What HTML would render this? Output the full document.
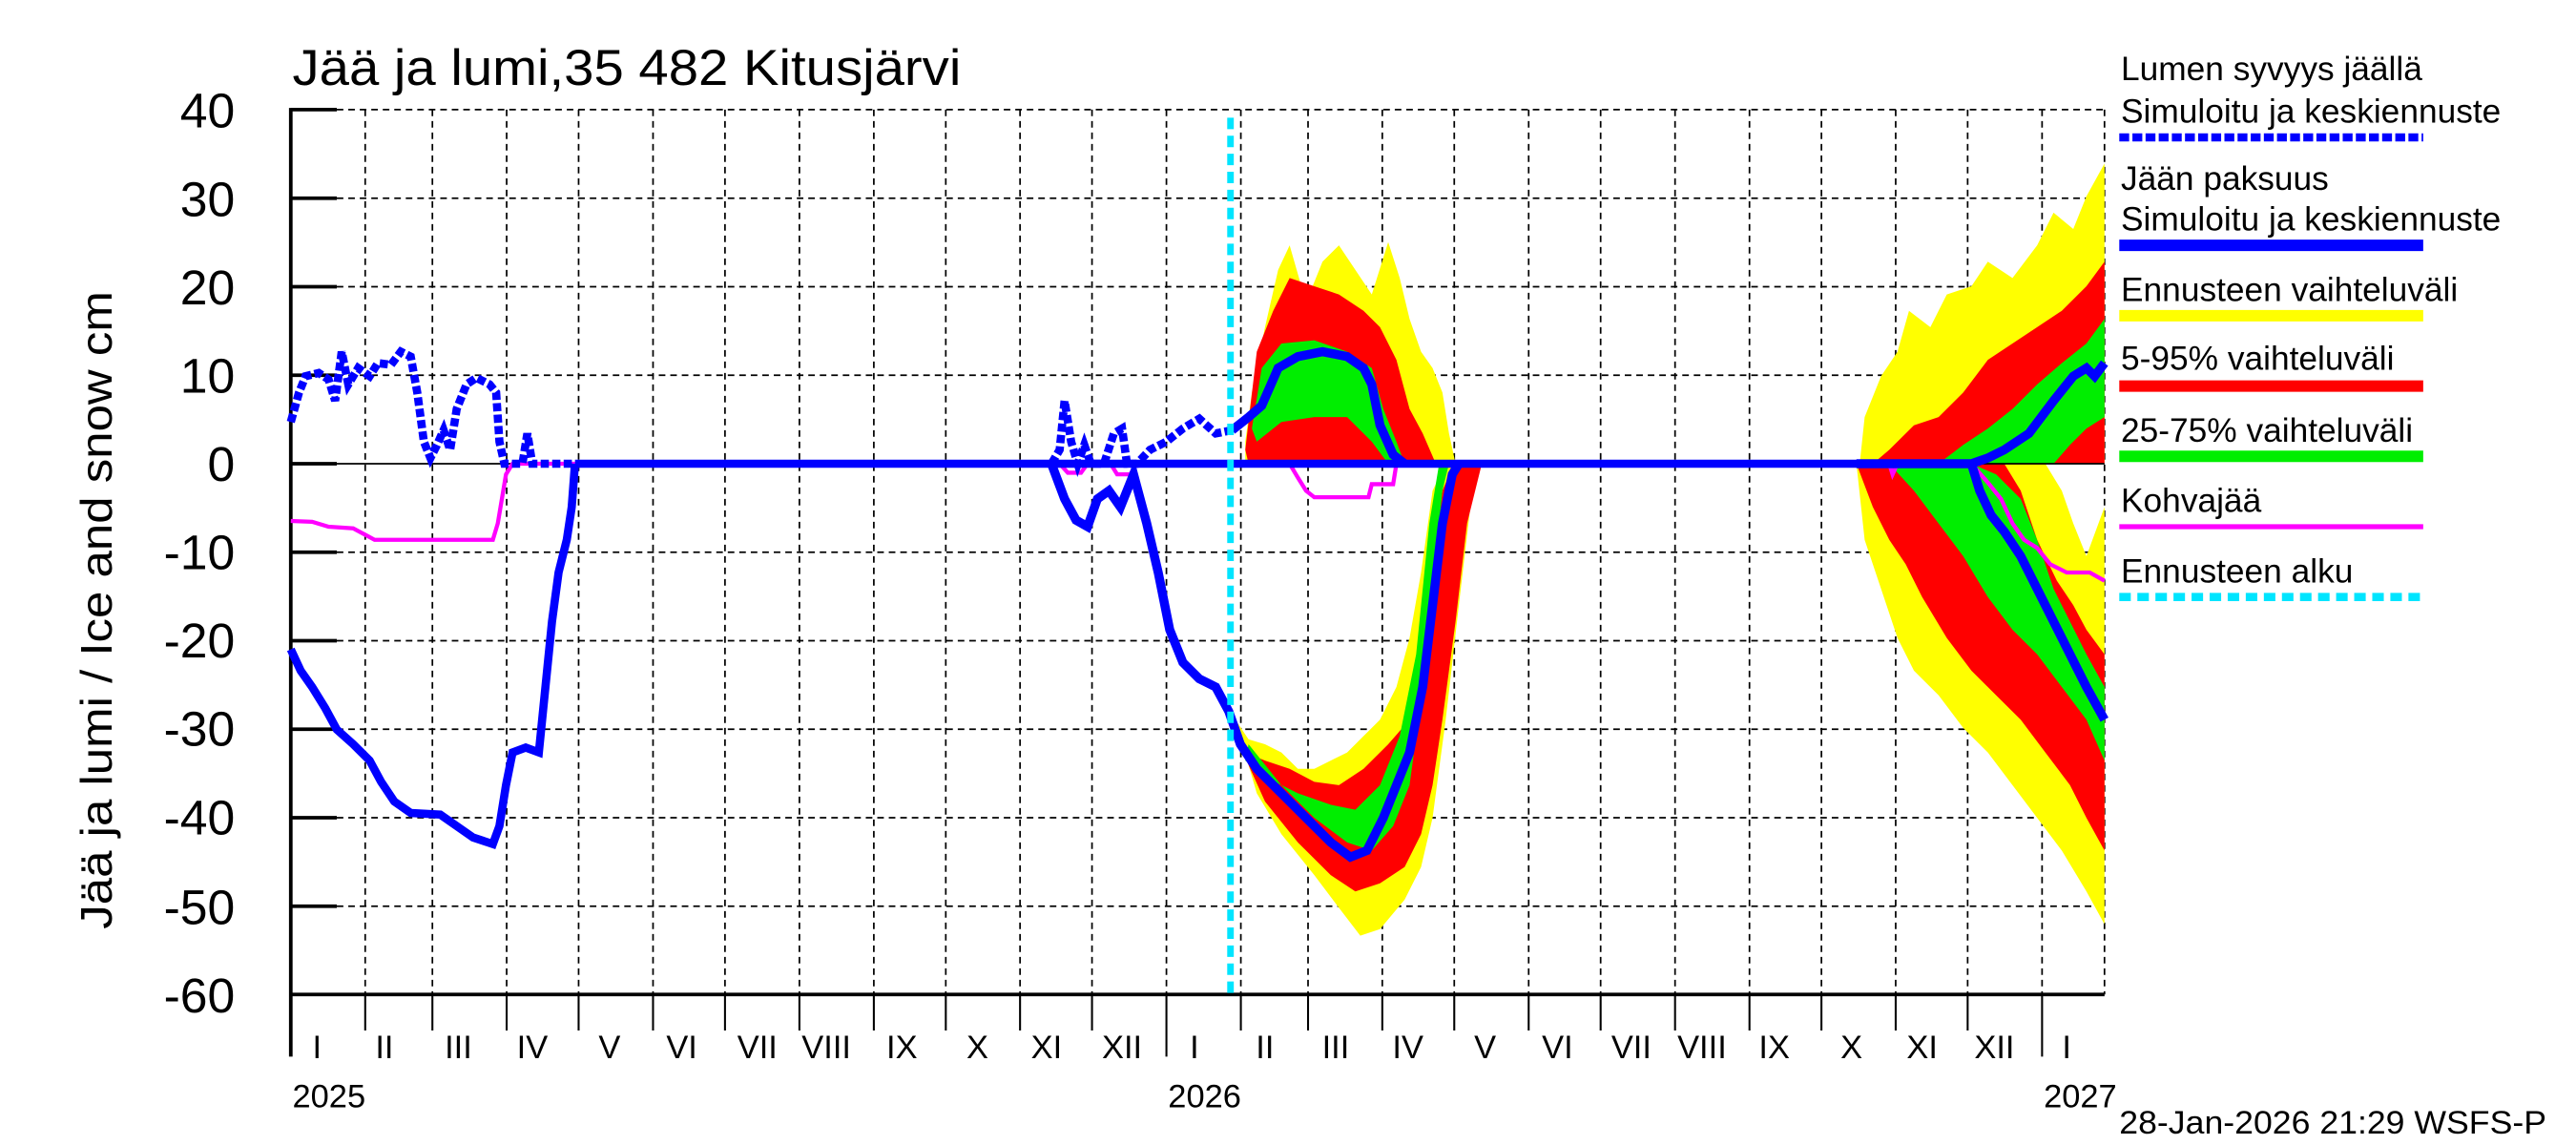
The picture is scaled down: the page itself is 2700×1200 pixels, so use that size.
<!DOCTYPE html>
<html><head><meta charset="utf-8"><style>html,body{margin:0;padding:0;background:#fff}svg{display:block}</style></head>
<body>
<svg width="2700" height="1200" viewBox="0 0 1568 700" preserveAspectRatio="none" xmlns="http://www.w3.org/2000/svg" font-family="Liberation Sans, sans-serif">
<rect width="1568" height="700" fill="#fff"/>
<g stroke="#000" stroke-width="1" stroke-dasharray="4,3">
<line x1="205" y1="67" x2="1281" y2="67"/><line x1="205" y1="121.2" x2="1281" y2="121.2"/><line x1="205" y1="175.3" x2="1281" y2="175.3"/><line x1="205" y1="229.4" x2="1281" y2="229.4"/><line x1="205" y1="337.6" x2="1281" y2="337.6"/><line x1="205" y1="391.7" x2="1281" y2="391.7"/><line x1="205" y1="445.8" x2="1281" y2="445.8"/><line x1="205" y1="499.9" x2="1281" y2="499.9"/><line x1="205" y1="554" x2="1281" y2="554"/>
<line x1="222.3" y1="67" x2="222.3" y2="608"/><line x1="263.2" y1="67" x2="263.2" y2="608"/><line x1="308.4" y1="67" x2="308.4" y2="608"/><line x1="352.2" y1="67" x2="352.2" y2="608"/><line x1="397.5" y1="67" x2="397.5" y2="608"/><line x1="441.3" y1="67" x2="441.3" y2="608"/><line x1="486.6" y1="67" x2="486.6" y2="608"/><line x1="531.9" y1="67" x2="531.9" y2="608"/><line x1="575.7" y1="67" x2="575.7" y2="608"/><line x1="620.9" y1="67" x2="620.9" y2="608"/><line x1="664.7" y1="67" x2="664.7" y2="608"/><line x1="710" y1="67" x2="710" y2="608"/><line x1="755.3" y1="67" x2="755.3" y2="608"/><line x1="796.2" y1="67" x2="796.2" y2="608"/><line x1="841.4" y1="67" x2="841.4" y2="608"/><line x1="885.2" y1="67" x2="885.2" y2="608"/><line x1="930.5" y1="67" x2="930.5" y2="608"/><line x1="974.3" y1="67" x2="974.3" y2="608"/><line x1="1019.6" y1="67" x2="1019.6" y2="608"/><line x1="1064.9" y1="67" x2="1064.9" y2="608"/><line x1="1108.7" y1="67" x2="1108.7" y2="608"/><line x1="1153.9" y1="67" x2="1153.9" y2="608"/><line x1="1197.7" y1="67" x2="1197.7" y2="608"/><line x1="1243" y1="67" x2="1243" y2="608"/><line x1="1281" y1="67" x2="1281" y2="608"/>
</g>
<polygon fill="#ffff00" points="758,270 762,240 770,200 778,165 785,150 795,185 805,160 815,150 825,165 835,180 845,148 852,170 858,195 865,215 872,225 878,240 882,265 886,283.5 758,283.5"/>
<polygon fill="#ff0000" points="758,275 765,215 775,190 785,170 800,175 815,180 830,190 840,200 850,220 858,250 866,265 874,283.5 760,283.5"/>
<polygon fill="#00ee00" points="762,262 768,225 780,210 800,208 820,215 835,225 842,250 850,270 855,283.5 845,283.5 835,270 820,255 800,255 780,258 765,270"/>
<polygon fill="#ffff00" points="752,440 765,485 780,510 800,535 815,555 828,572 840,568 855,550 865,530 872,500 880,440 888,370 895,310 900,283.5 880,283.5 872,300 865,350 858,390 850,420 840,440 830,450 820,460 810,465 800,470 790,470 780,460 770,455 760,452"/>
<polygon fill="#ff0000" points="752,450 770,490 790,515 810,535 825,545 840,540 855,530 865,510 872,480 878,440 886,380 893,320 902,283.5 885,283.5 878,300 872,350 866,400 858,440 845,455 830,470 815,480 800,478 785,470 770,465 758,460"/>
<polygon fill="#00ee00" points="760,455 780,480 800,500 820,515 835,520 848,505 858,480 866,420 872,360 878,300 882,283.5 876,283.5 870,320 862,400 852,450 840,480 825,495 810,492 790,485 770,475 758,465"/>
<polygon fill="#ffff00" points="1132,283.5 1135,255 1145,230 1155,215 1162,190 1175,200 1185,180 1200,175 1210,160 1225,170 1240,150 1250,130 1262,140 1270,120 1281,100 1281,283.5"/>
<polygon fill="#ff0000" points="1140,283.5 1150,275 1165,260 1180,255 1195,240 1210,220 1225,210 1240,200 1255,190 1270,175 1281,160 1281,283.5"/>
<polygon fill="#00ee00" points="1180,283.5 1195,272 1210,262 1225,250 1240,235 1255,222 1270,210 1281,195 1281,255 1270,262 1260,272 1250,283.5"/>
<polygon fill="#ffff00" points="1130,283.5 1135,330 1145,360 1155,390 1165,410 1180,425 1195,445 1210,460 1225,480 1240,500 1255,520 1270,545 1281,565 1281,310 1270,340 1262,320 1255,300 1245,283.5"/>
<polygon fill="#ff0000" points="1130,283.5 1140,310 1150,330 1160,345 1170,365 1185,390 1200,410 1215,425 1230,440 1245,460 1260,480 1270,500 1281,520 1281,400 1270,385 1262,370 1252,355 1240,330 1230,300 1220,283.5"/>
<polygon fill="#00ee00" points="1150,283.5 1165,300 1180,320 1195,340 1210,365 1225,385 1240,400 1255,420 1270,440 1281,465 1281,420 1270,400 1260,380 1250,360 1240,330 1230,305 1215,290 1200,283.5"/>
<line x1="177" y1="283.5" x2="1281" y2="283.5" stroke="#000" stroke-width="1"/>
<g stroke="#000" stroke-width="2.2">
<line x1="177" y1="66" x2="177" y2="646"/><line x1="177" y1="608" x2="1281" y2="608"/>
<line x1="177" y1="67" x2="205" y2="67"/><line x1="177" y1="121.2" x2="205" y2="121.2"/><line x1="177" y1="175.3" x2="205" y2="175.3"/><line x1="177" y1="229.4" x2="205" y2="229.4"/><line x1="177" y1="283.5" x2="205" y2="283.5"/><line x1="177" y1="337.6" x2="205" y2="337.6"/><line x1="177" y1="391.7" x2="205" y2="391.7"/><line x1="177" y1="445.8" x2="205" y2="445.8"/><line x1="177" y1="499.9" x2="205" y2="499.9"/><line x1="177" y1="554" x2="205" y2="554"/>
</g>
<g stroke="#000" stroke-width="1.2">
<line x1="222.3" y1="608" x2="222.3" y2="630"/><line x1="263.2" y1="608" x2="263.2" y2="630"/><line x1="308.4" y1="608" x2="308.4" y2="630"/><line x1="352.2" y1="608" x2="352.2" y2="630"/><line x1="397.5" y1="608" x2="397.5" y2="630"/><line x1="441.3" y1="608" x2="441.3" y2="630"/><line x1="486.6" y1="608" x2="486.6" y2="630"/><line x1="531.9" y1="608" x2="531.9" y2="630"/><line x1="575.7" y1="608" x2="575.7" y2="630"/><line x1="620.9" y1="608" x2="620.9" y2="630"/><line x1="664.7" y1="608" x2="664.7" y2="630"/><line x1="710" y1="608" x2="710" y2="646"/><line x1="755.3" y1="608" x2="755.3" y2="630"/><line x1="796.2" y1="608" x2="796.2" y2="630"/><line x1="841.4" y1="608" x2="841.4" y2="630"/><line x1="885.2" y1="608" x2="885.2" y2="630"/><line x1="930.5" y1="608" x2="930.5" y2="630"/><line x1="974.3" y1="608" x2="974.3" y2="630"/><line x1="1019.6" y1="608" x2="1019.6" y2="630"/><line x1="1064.9" y1="608" x2="1064.9" y2="630"/><line x1="1108.7" y1="608" x2="1108.7" y2="630"/><line x1="1153.9" y1="608" x2="1153.9" y2="630"/><line x1="1197.7" y1="608" x2="1197.7" y2="630"/><line x1="1243" y1="608" x2="1243" y2="646"/>
</g>
<polyline fill="none" stroke="#ff00ff" stroke-width="2.5" points="177,318.5 190,319 200,322 215,323 228,330 300,330 303,320 308,290 312,283.5 645,283.5 650,289 658,289 662,283.5 676,283.5 680,290 688,290 692,283.5 785,283.5 790,292 795,300 800,304 833,304 835,296 848,296 850,283.5 1150,283.5 1152,290 1155,283.5 1200,283.5 1210,295 1218,305 1225,320 1232,330 1240,335 1248,345 1258,350 1272,350 1281,355"/>
<polyline fill="none" stroke="#0000ff" stroke-width="5" stroke-dasharray="5,2" points="177,258 182,240 186,230 194,228 200,232 204,245 208,215 212,235 218,225 225,230 230,222 238,223 244,215 250,218 254,240 258,270 262,280 266,272 270,263 274,275 278,250 284,235 290,231 298,235 302,240 304,270 307,283.5 318,283.5 321,265 324,283.5 350,283.5"/>
<polyline fill="none" stroke="#0000ff" stroke-width="5" stroke-dasharray="5,2" points="640,283.5 645,275 648,245 652,270 656,283.5 660,272 664,283.5 672,283.5 678,265 683,262 686,283.5 692,283.5 700,275 710,270 720,262 730,256 740,265 750,263"/>
<polyline fill="none" stroke="#0000ff" stroke-width="5.5" points="750,263 760,255 768,248 778,225 790,218 805,215 820,218 830,225 835,235 840,260 848,278 855,283.5"/>
<polyline fill="none" stroke="#0000ff" stroke-width="5.5" points="1130,283.5 1200,283.5 1210,280 1220,275 1235,265 1250,245 1262,230 1270,225 1275,230 1281,222"/>
<polyline fill="none" stroke="#0000ff" stroke-width="5" points="177,397 183,410 190,420 198,433 205,446 215,455 225,465 232,478 240,490 250,497 268,498 278,505 288,512 300,516 304,505 308,480 312,460 320,457 328,460 332,420 336,380 340,350 345,330 348,310 350,283.5"/>
<polyline fill="none" stroke="#0000ff" stroke-width="5.5" points="640,283.5 648,305 655,318 662,322 668,305 675,300 682,310 690,290 698,320 705,350 712,385 720,405 730,415 740,420 748,435 755,455 765,470 780,485 795,500 810,515 822,524 832,520 842,500 850,480 858,460 866,420 872,370 878,320 884,290 888,283.5"/>
<polyline fill="none" stroke="#0000ff" stroke-width="5.5" points="1200,283.5 1205,300 1212,315 1220,325 1230,340 1240,360 1250,380 1260,400 1270,420 1281,440"/>
<line x1="350" y1="283.5" x2="1200" y2="283.5" stroke="#0000ff" stroke-width="5"/>
<line x1="749" y1="72" x2="749" y2="608" stroke="#00e5ff" stroke-width="4" stroke-dasharray="7,4"/>
<text x="178" y="52" font-size="31" textLength="407" lengthAdjust="spacingAndGlyphs">Jää ja lumi,35 482 Kitusjärvi</text>
<g font-size="30" text-anchor="end">
<text x="143" y="78">40</text><text x="143" y="132">30</text><text x="143" y="186">20</text><text x="143" y="240">10</text><text x="143" y="294">0</text><text x="143" y="348">-10</text><text x="143" y="402">-20</text><text x="143" y="456">-30</text><text x="143" y="510">-40</text><text x="143" y="565">-50</text><text x="143" y="619">-60</text>
</g>
<text transform="translate(68,373) rotate(-90)" font-size="27" text-anchor="middle" textLength="390" lengthAdjust="spacingAndGlyphs">Jää ja lumi / Ice and snow    cm</text>
<g font-size="20" text-anchor="middle">
<text x="193" y="647">I</text><text x="234" y="647">II</text><text x="279" y="647">III</text><text x="324" y="647">IV</text><text x="371" y="647">V</text><text x="415" y="647">VI</text><text x="461" y="647">VII</text><text x="503" y="647">VIII</text><text x="549" y="647">IX</text><text x="595" y="647">X</text><text x="637" y="647">XI</text><text x="683" y="647">XII</text><text x="727" y="647">I</text><text x="770" y="647">II</text><text x="813" y="647">III</text><text x="857" y="647">IV</text><text x="904" y="647">V</text><text x="948" y="647">VI</text><text x="993" y="647">VII</text><text x="1036" y="647">VIII</text><text x="1080" y="647">IX</text><text x="1127" y="647">X</text><text x="1170" y="647">XI</text><text x="1214" y="647">XII</text><text x="1258" y="647">I</text>
</g>
<g font-size="20"><text x="178" y="677">2025</text><text x="711" y="677">2026</text><text x="1244" y="677">2027</text>
<text x="1290" y="693" textLength="260" lengthAdjust="spacingAndGlyphs">28-Jan-2026 21:29 WSFS-P</text></g>
<g font-size="20.5">
<text x="1291" y="49">Lumen syvyys jäällä</text><text x="1291" y="75">Simuloitu ja keskiennuste</text>
<text x="1291" y="116">Jään paksuus</text><text x="1291" y="141">Simuloitu ja keskiennuste</text>
<text x="1291" y="184">Ennusteen vaihteluväli</text>
<text x="1291" y="226">5-95% vaihteluväli</text>
<text x="1291" y="270">25-75% vaihteluväli</text>
<text x="1291" y="313">Kohvajää</text>
<text x="1291" y="356">Ennusteen alku</text>
</g>
<line x1="1290" y1="84" x2="1475" y2="84" stroke="#0000ff" stroke-width="5" stroke-dasharray="6,2"/>
<line x1="1290" y1="150" x2="1475" y2="150" stroke="#0000ff" stroke-width="7"/>
<line x1="1290" y1="193" x2="1475" y2="193" stroke="#ffff00" stroke-width="7"/>
<line x1="1290" y1="236" x2="1475" y2="236" stroke="#ff0000" stroke-width="7"/>
<line x1="1290" y1="279" x2="1475" y2="279" stroke="#00ee00" stroke-width="7"/>
<line x1="1290" y1="322" x2="1475" y2="322" stroke="#ff00ff" stroke-width="3"/>
<line x1="1290" y1="365" x2="1475" y2="365" stroke="#00e5ff" stroke-width="5" stroke-dasharray="7,4"/>
</svg>
</body></html>
